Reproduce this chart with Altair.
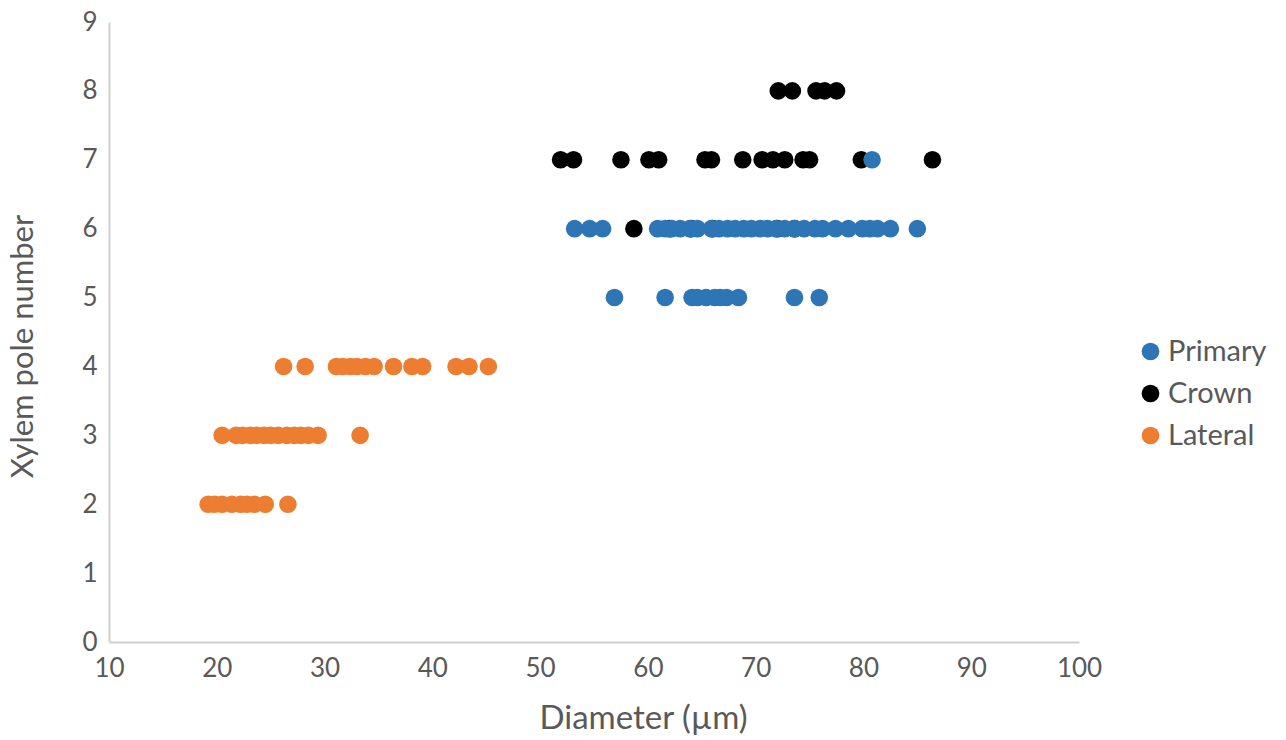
import altair as alt
import pandas as pd

crown_x = [72.1, 73.4, 75.6, 76.4, 77.5,
           51.9, 53.1, 57.5, 60.1, 61.0, 65.3, 65.9, 68.8, 70.6, 71.6, 72.7, 74.4, 75.0, 79.8, 86.4,
           58.7, 62.0, 64.0, 66.0, 72.0, 73.6]
crown_y = [8, 8, 8, 8, 8,
           7, 7, 7, 7, 7, 7, 7, 7, 7, 7, 7, 7, 7, 7, 7,
           6, 6, 6, 6, 6, 6]

primary_x = [80.8,
             53.2, 54.6, 55.8, 60.9, 61.6, 62.2, 63.0, 63.9, 64.6, 65.9, 66.6, 67.4, 68.1, 68.9,
             69.6, 70.4, 71.1, 71.9, 72.7, 73.6, 74.5, 75.5, 76.2, 77.4, 78.6, 79.9, 80.6, 81.3, 82.5, 85.0,
             56.9, 61.6, 64.1, 64.6, 65.4, 66.2, 66.7, 67.3, 68.4, 73.6, 75.9]
primary_y = [7] + [6] * 30 + [5] * 11

lateral_x = [26.2, 28.2, 31.1, 31.7, 32.4, 33.0, 33.8, 34.6, 36.4, 38.1, 39.1, 42.2, 43.4, 45.2,
             20.5, 21.8, 22.4, 23.1, 23.7, 24.4, 25.0, 25.7, 26.5, 27.2, 27.8, 28.5, 29.4, 33.3,
             19.2, 19.8, 20.5, 21.4, 22.2, 22.8, 23.5, 24.5, 26.6]
lateral_y = [4] * 14 + [3] * 14 + [2] * 9

series = ["Primary", "Crown", "Lateral"]
colors = ["#2E75B6", "#000000", "#ED7D31"]

rows = []
for name, xs, ys in [("Crown", crown_x, crown_y), ("Primary", primary_x, primary_y), ("Lateral", lateral_x, lateral_y)]:
    for x, y in zip(xs, ys):
        rows.append({"Diameter": x, "Poles": y, "Type": name})
df = pd.DataFrame(rows)

font = "Lato"
grey = "#595959"
chart = alt.Chart(df).mark_circle(size=310, opacity=1).encode(
    x=alt.X("Diameter:Q", scale=alt.Scale(domain=[10, 100], nice=False, zero=False),
            axis=alt.Axis(title="Diameter (µm)", values=list(range(10, 101, 10)), grid=False, ticks=False,
                          domainColor="#D0D0D0", domainWidth=2, labelFontSize=26, labelColor=grey,
                          labelFont=font, labelPadding=13, labelFlush=False,
                          titleFont=font, titleFontSize=33,
                          titleColor=grey, titleFontWeight="normal",
                          titleX=534, titleY=76, titleAlign="center", titleBaseline="middle")),
    y=alt.Y("Poles:Q", scale=alt.Scale(domain=[0, 9], nice=False),
            axis=alt.Axis(title="Xylem pole number", values=list(range(0, 10)), grid=False, ticks=False,
                          domainColor="#D0D0D0", domainWidth=2, labelFontSize=26, labelColor=grey,
                          labelFont=font, labelPadding=12, labelFlush=False,
                          titleFont=font, titleFontSize=31,
                          titleColor=grey, titleFontWeight="normal",
                          titleX=-86, titleY=324, titleAngle=-90, titleAlign="center",
                          titleBaseline="middle")),
    color=alt.Color("Type:N", scale=alt.Scale(domain=series, range=colors),
                    legend=alt.Legend(title=None, orient="none", legendX=1027, legendY=315,
                                      labelFont=font, labelFontSize=29, labelColor=grey,
                                      symbolType="circle", symbolSize=314, symbolOpacity=1,
                                      rowPadding=12, labelOffset=3)),
    order=alt.Order("ord:Q")
).transform_calculate(
    ord="datum.Type == 'Crown' ? 0 : (datum.Type == 'Primary' ? 1 : 2)"
).properties(
    width=970, height=620,
    background="white",
    autosize=alt.AutoSizeParams(type="none"),
    padding={"left": 109, "top": 22, "right": 207, "bottom": 98}
).configure_view(stroke=None)

chart.save("out.html", embed_options={"renderer": "svg", "actions": False})
